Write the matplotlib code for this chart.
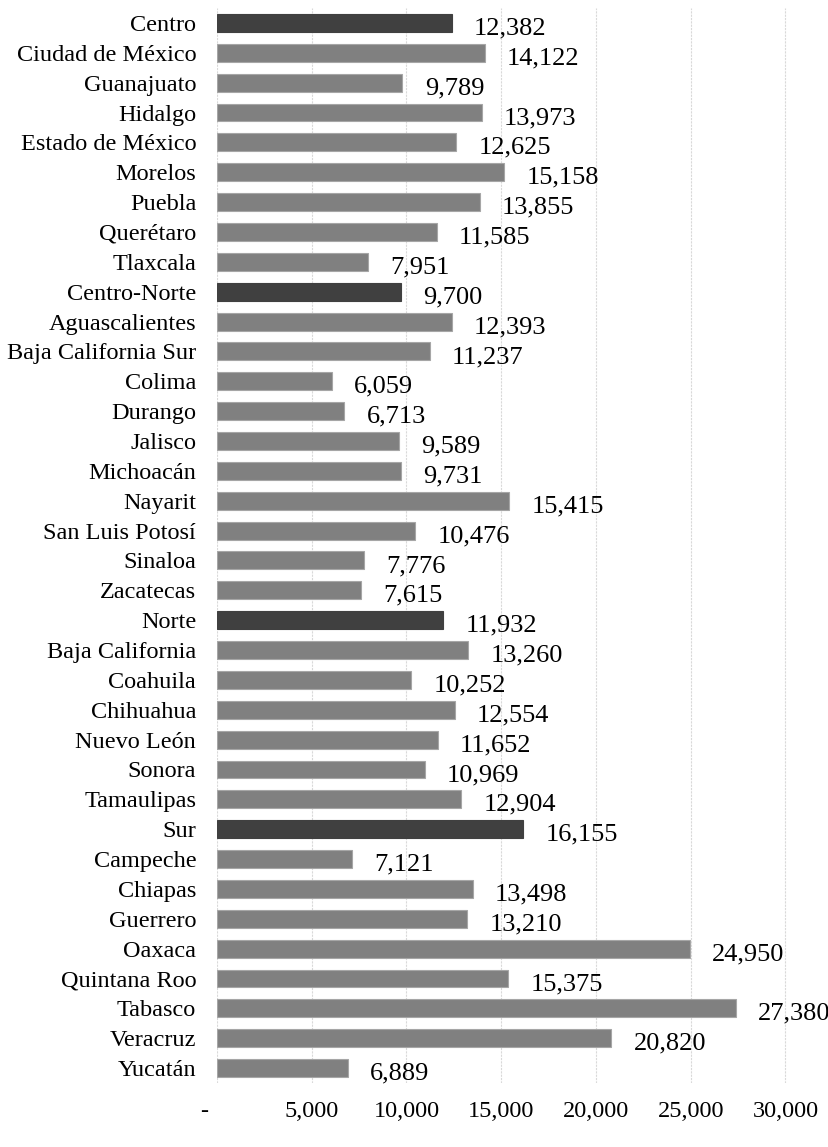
import matplotlib
matplotlib.use("Agg")
import matplotlib.pyplot as plt
from matplotlib.ticker import FuncFormatter

# Data (top to bottom)
estados = ["Centro", "Ciudad de México", "Guanajuato", "Hidalgo", "Estado de México",
           "Morelos", "Puebla", "Querétaro", "Tlaxcala",
           "Centro-Norte", "Aguascalientes", "Baja California Sur", "Colima", "Durango",
           "Jalisco", "Michoacán", "Nayarit", "San Luis Potosí", "Sinaloa", "Zacatecas",
           "Norte", "Baja California", "Coahuila", "Chihuahua", "Nuevo León", "Sonora",
           "Tamaulipas",
           "Sur", "Campeche", "Chiapas", "Guerrero", "Oaxaca", "Quintana Roo", "Tabasco",
           "Veracruz", "Yucatán"]
valores = [12382, 14122, 9789, 13973, 12625, 15158, 13855, 11585, 7951,
           9700, 12393, 11237, 6059, 6713, 9589, 9731, 15415, 10476, 7776, 7615,
           11932, 13260, 10252, 12554, 11652, 10969, 12904,
           16155, 7121, 13498, 13210, 24950, 15375, 27380, 20820, 6889]
regiones = ["Centro", "Centro-Norte", "Norte", "Sur"]

plt.rcParams['font.family'] = ['Liberation Serif', 'DejaVu Serif']

fig = plt.figure(figsize=(8.29, 11.47), dpi=100)
ax = fig.add_axes([217/829, 1 - 1083/1147, 1 - 217/829, 1075/1147])

ypos = list(range(len(estados)))
colores = ["#404040" if e in regiones else "#808080" for e in estados]
bordes = ["#404040" if e in regiones else "#a6a6a6" for e in estados]
ax.barh(ypos, valores, height=0.6, color=colores, edgecolor=bordes, linewidth=0.8, zorder=2)

for y, v in zip(ypos, valores):
    ax.annotate(f"{v:,}", xy=(v, y), xytext=(16, -4), textcoords="offset points",
                ha="left", va="center", fontsize=19)

ax.set_ylim(len(estados) - 0.5, -0.5)
ax.set_xlim(0, 32300)
ax.set_yticks(ypos)
ax.set_yticklabels(estados, fontsize=17.5)
ax.set_xticks([0, 5000, 10000, 15000, 20000, 25000, 30000])
ax.xaxis.set_major_formatter(FuncFormatter(lambda x, p: "-    " if x == 0 else f"{int(x):,}"))
ax.tick_params(axis="x", labelsize=17.5, length=0, pad=13)
ax.tick_params(axis="y", length=0, pad=15)

ax.grid(axis="x", color="#d9d9d9", linestyle=(0, (2, 1)), linewidth=0.8, zorder=0)
for s in ax.spines.values():
    s.set_visible(False)

fig.savefig("out.png", dpi=100)
